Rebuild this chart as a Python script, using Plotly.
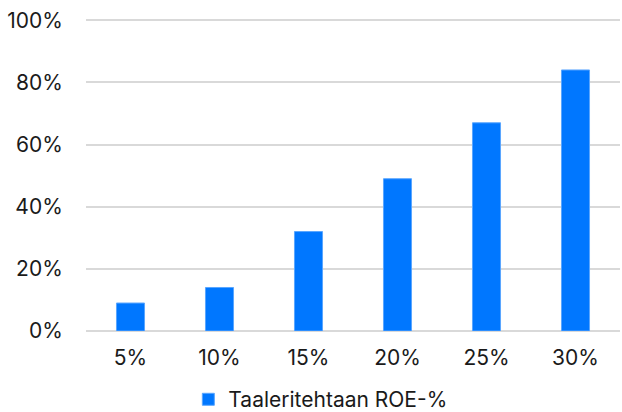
import plotly.graph_objects as go

categories = ["5%", "10%", "15%", "20%", "25%", "30%"]
values = [9, 14, 32, 49, 67, 84]
series_name = "Taaleritehtaan ROE-%"
y_ticks = [0, 20, 40, 60, 80, 100]
y_tick_labels = ["0%", "20%", "40%", "60%", "80%", "100%"]

fig = go.Figure()
fig.add_trace(go.Bar(
    x=categories, y=values, name=series_name,
    marker=dict(color="#0077FF", line=dict(color="#5aa6ff", width=1)),
    showlegend=True,
))

fig.update_layout(
    width=622, height=412,
    margin=dict(l=86, r=2, t=19, b=81, autoexpand=False),
    paper_bgcolor="white", plot_bgcolor="white",
    font=dict(family="Inter, Open Sans, sans-serif", size=21, color="#1a1a1a"),
    bargap=0.685,
    legend=dict(orientation="h", x=0.515, xanchor="center", xref="container",
                y=0.03, yanchor="middle", yref="container",
                font=dict(size=21), itemwidth=30),
    xaxis=dict(showgrid=False, showline=False, ticks="outside", tickcolor="white", ticklen=8,
               tickfont=dict(size=21)),
    yaxis=dict(range=[0, 100.4], tickvals=y_ticks, ticktext=y_tick_labels,
               showgrid=True, gridcolor="#d9d9d9", gridwidth=1.5,
               zeroline=True, zerolinecolor="#d9d9d9", zerolinewidth=2,
               ticks="outside", tickcolor="white", ticklen=18, tickfont=dict(size=21)),
)

fig.write_html("out.html", config={"displayModeBar": False},
               post_script="document.body.style.margin='0';document.body.style.overflow='hidden';")
